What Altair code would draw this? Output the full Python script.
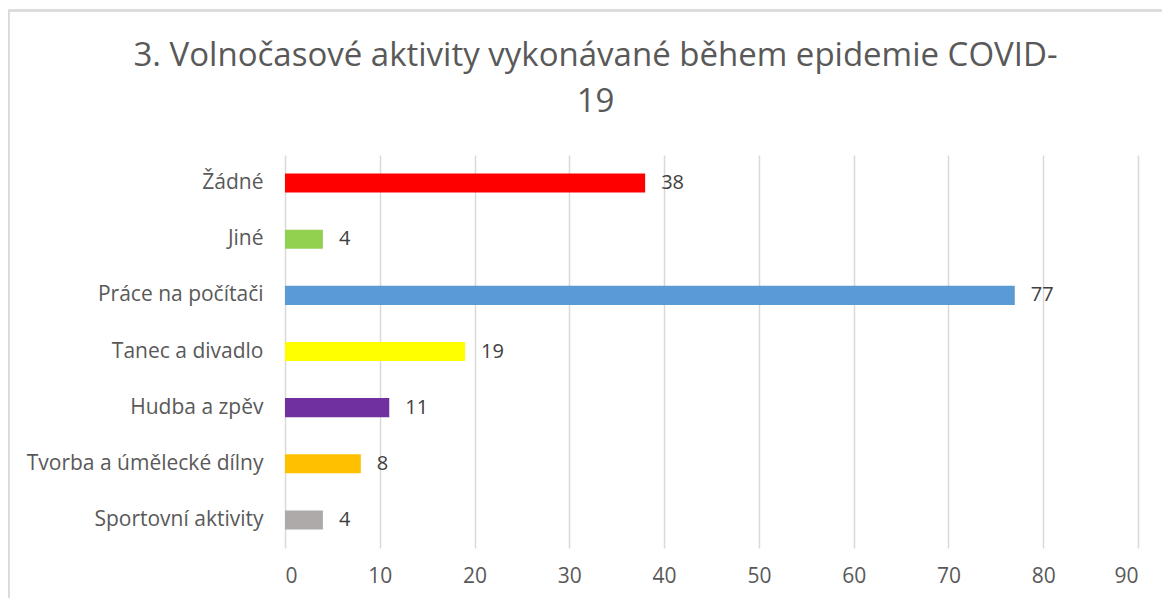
import altair as alt
import pandas as pd

categories = ["Žádné", "Jiné", "Práce na počítači", "Tanec a divadlo",
              "Hudba a zpěv", "Tvorba a úmělecké dílny", "Sportovní aktivity"]
values = [38, 4, 77, 19, 11, 8, 4]
colors = ["#FF0000", "#92D050", "#5B9BD5", "#FFFF00", "#7030A0", "#FFC000", "#AEAAAA"]
x_ticks = [0, 10, 20, 30, 40, 50, 60, 70, 80, 90]
title_lines = ["3. Volnočasové aktivity vykonávané během epidemie COVID-", "19"]

df = pd.DataFrame({"cat": categories, "val": values, "color": colors})

FONT = "Open Sans"

y_enc = alt.Y("cat:N", sort=categories, title=None,
              scale=alt.Scale(paddingInner=0.66, paddingOuter=0.33),
              axis=alt.Axis(domain=False, ticks=False, labelFontSize=21, labelColor="#595959",
                            labelFont=FONT, labelPadding=22, labelLimit=300))
x_enc = alt.X("val:Q", title=None,
              scale=alt.Scale(domain=[0, 90], nice=False, zero=True),
              axis=alt.Axis(values=x_ticks, domain=False, ticks=False, grid=True,
                            gridColor="#D9D9D9", gridWidth=1.5, labelFontSize=21,
                            labelColor="#595959", labelFont=FONT, labelPadding=17))

bars = alt.Chart(df).mark_bar().encode(
    x=x_enc, y=y_enc,
    color=alt.Color("color:N", scale=None),
)

labels = alt.Chart(df).mark_text(align="left", baseline="middle", dx=16,
                                 fontSize=20, font=FONT, color="#404040").encode(
    x="val:Q", y=alt.Y("cat:N", sort=categories), text="val:Q"
)

frame_top = alt.Chart(df).mark_rule(color="#D9D9D9", strokeWidth=1.5).encode(
    x=alt.value(-276.5), x2=alt.value(900), y=alt.value(-144.5)
)
frame_left = alt.Chart(df).mark_rule(color="#D9D9D9", strokeWidth=1.5).encode(
    x=alt.value(-276.5), y=alt.value(-144.5), y2=alt.value(460)
)

chart = alt.layer(bars, labels, frame_top, frame_left).properties(
    width=853, height=393,
    autosize=alt.AutoSizeParams(type="none"),
    padding={"left": 277, "top": 147, "right": 24, "bottom": 50},
    title=alt.TitleParams(title_lines, fontSize=33, font=FONT, fontWeight="normal",
                          color="#595959", anchor="middle", frame="group", dx=-116,
                          offset=-109, lineHeight=46),
).configure_view(stroke=None)

chart.save("out.html", embed_options={"renderer": "svg", "actions": False})
